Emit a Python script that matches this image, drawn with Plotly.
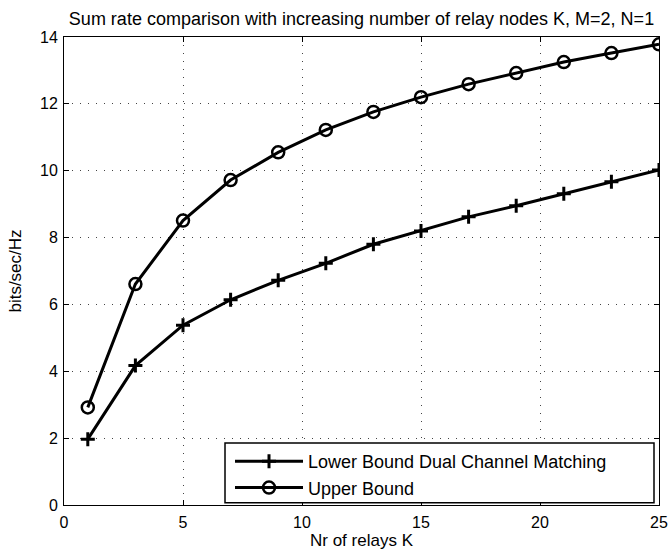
import plotly.graph_objects as go

# Data
relays_k = [1, 3, 5, 7, 9, 11, 13, 15, 17, 19, 21, 23, 25]
lower_bound = [1.97, 4.17, 5.38, 6.14, 6.72, 7.23, 7.80, 8.20, 8.62, 8.95, 9.31, 9.67, 10.02]
upper_bound = [2.92, 6.61, 8.51, 9.72, 10.55, 11.22, 11.76, 12.20, 12.59, 12.92, 13.25, 13.52, 13.78]
x_ticks = [0, 5, 10, 15, 20, 25]
y_ticks = [0, 2, 4, 6, 8, 10, 12, 14]

FONT = "Liberation Sans, Arial, sans-serif"
W, H = 668, 554

fig = go.Figure()
fig.add_trace(go.Scatter(
    x=relays_k, y=lower_bound, mode="lines+markers",
    name="Lower Bound Dual Channel Matching",
    line=dict(color="black", width=3),
    marker=dict(symbol="cross-thin", size=10, color="black",
                line=dict(color="black", width=3)),
))
fig.add_trace(go.Scatter(
    x=relays_k, y=upper_bound, mode="lines+markers",
    name="Upper Bound",
    line=dict(color="black", width=3),
    marker=dict(symbol="circle-open", size=12, color="black",
                line=dict(color="black", width=2.5)),
))

axis_common = dict(
    showline=True, linecolor="black", linewidth=1, mirror="allticks",
    ticks="inside", ticklen=5, tickcolor="black", tickwidth=1,
    showgrid=True, gridcolor="#444", gridwidth=1, griddash="1px,7px",
    zeroline=False, automargin=False,
    tickfont=dict(family=FONT, size=16, color="black"),
)

fig.update_xaxes(range=[0, 25], tickvals=x_ticks, ticklabelstandoff=3,
                 title=dict(text="Nr of relays K", standoff=2,
                            font=dict(family=FONT, size=17, color="black")),
                 **axis_common)
fig.update_yaxes(range=[0, 14], tickvals=y_ticks, ticklabelstandoff=2,
                 title=dict(text="bits/sec/Hz", standoff=14,
                            font=dict(family=FONT, size=17, color="black")),
                 **axis_common)

# legend box
fig.add_shape(type="rect", xref="paper", yref="paper",
              x0=0.2706, x1=0.9916, y0=0.005, y1=0.1325,
              line=dict(color="black", width=1.5), fillcolor="white", layer="above")

fig.update_layout(
    width=W, height=H,
    margin=dict(l=64, r=9, t=37, b=49),
    paper_bgcolor="white", plot_bgcolor="white",
    hovermode=False,
    title=dict(text="Sum rate comparison with increasing number of relay nodes K, M=2, N=1",
               x=0.5, xref="paper", xanchor="center",
               y=1 - 19 / H, yref="container", yanchor="middle",
               font=dict(family=FONT, size=18, color="black")),
    legend=dict(x=0.2790, y=0.1325, xanchor="left", yanchor="top",
                bgcolor="rgba(0,0,0,0)", borderwidth=0, itemwidth=68,
                font=dict(family=FONT, size=18, color="black"),
                tracegroupgap=0),
    showlegend=True,
)

fig.write_html("out.html", config={"displayModeBar": False},
               post_script="document.body.style.margin='0';")
